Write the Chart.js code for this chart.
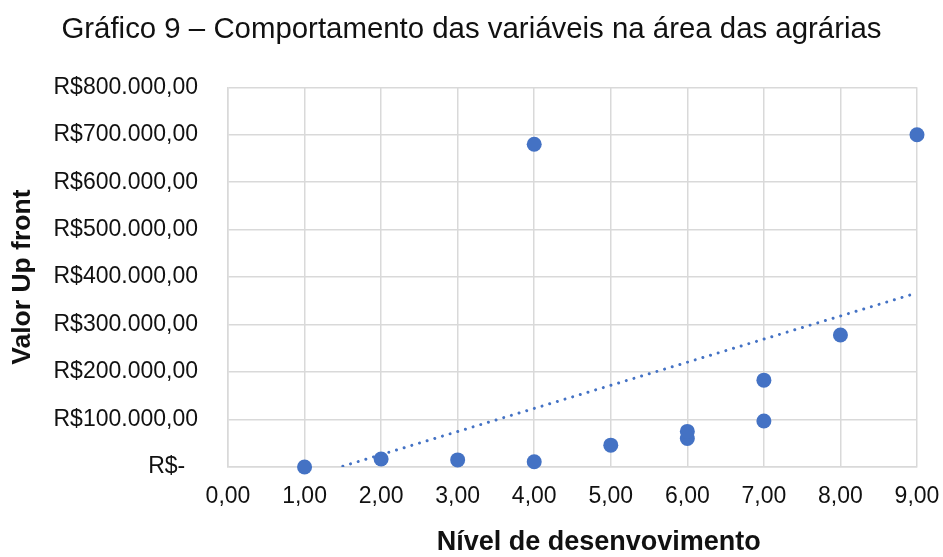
<!DOCTYPE html>
<html lang="pt-BR">
<head>
<meta charset="utf-8">
<title>Gráfico 9</title>
<script src="https://cdn.jsdelivr.net/npm/chart.js@4/dist/chart.umd.min.js"></script>
<style>
  html, body { margin: 0; padding: 0; background: #ffffff; }
  #wrap { width: 943px; height: 557px; }
</style>
</head>
<body>
<div id="wrap"><canvas id="chart"></canvas></div>
<script>
// Nível de desenvolvimento (x) e valor up front em R$ (y)
const nivel = [1, 2, 3, 4, 4, 5, 6, 6, 7, 7, 8, 9];
const valorUpFront = [0, 17000, 15000, 11000, 680000, 46000, 60000, 75000, 97000, 183000, 278000, 700000];

// Eixos
const xTickValues = [0, 1, 2, 3, 4, 5, 6, 7, 8, 9];
const yTickValues = [0, 100000, 200000, 300000, 400000, 500000, 600000, 700000, 800000];

const FONT = "'Liberation Sans', Arial, sans-serif";
const TEXT = '#111111';
const GRID = '#d9d9d9';
const BLUE = '#4472C4';

// Formato monetário brasileiro: R$800.000,00 / R$-
function brl(v) {
  if (v === 0) return 'R$-  ';
  const int = Math.round(v).toString().replace(/\B(?=(\d{3})+(?!\d))/g, '.');
  return 'R$' + int + ',00';
}
function dec2(v) {
  return v.toFixed(2).replace('.', ',');
}

// Linha de tendência linear (mínimos quadrados)
function linearFit(xs, ys) {
  const n = xs.length;
  const mx = xs.reduce((a, b) => a + b, 0) / n;
  const my = ys.reduce((a, b) => a + b, 0) / n;
  let sxy = 0, sxx = 0;
  for (let i = 0; i < n; i++) {
    sxy += (xs[i] - mx) * (ys[i] - my);
    sxx += (xs[i] - mx) * (xs[i] - mx);
  }
  const slope = sxy / sxx;
  return { slope, intercept: my - slope * mx };
}
const fit = linearFit(nivel, valorUpFront);
const xMin = Math.min(...nivel), xMax = Math.max(...nivel);
const trendPoints = [xMin, xMax].map(x => ({ x, y: fit.intercept + fit.slope * x }));

const points = nivel.map((x, i) => ({ x, y: valorUpFront[i] }));

new Chart(document.getElementById('chart'), {
  type: 'scatter',
  data: {
    datasets: [
      {
        label: 'Valor Up front',
        data: points,
        backgroundColor: BLUE,
        borderWidth: 0,
        pointRadius: 7.5,
        pointHoverRadius: 7.5,
        clip: false,
        order: 2
      },
      {
        type: 'line',
        label: 'Linear (Valor Up front)',
        data: trendPoints,
        borderColor: BLUE,
        borderWidth: 3,
        borderDash: [0.001, 8],
        borderCapStyle: 'round',
        pointRadius: 0,
        fill: false,
        order: 1
      }
    ]
  },
  options: {
    responsive: true,
    maintainAspectRatio: false,
    devicePixelRatio: 1,
    animation: false,
    layout: { padding: 0 },
    plugins: {
      legend: { display: false },
      tooltip: { enabled: false },
      title: {
        display: true,
        text: 'Gráfico 9 – Comportamento das variáveis na área das agrárias',
        color: TEXT,
        font: { family: FONT, size: 29.4, weight: 'normal' },
        padding: { top: 12, bottom: 40 }
      }
    },
    scales: {
      x: {
        type: 'linear',
        min: 0,
        max: 9,
        afterBuildTicks: (axis) => { axis.ticks = xTickValues.map(v => ({ value: v })); },
        afterFit: (axis) => {
          // reserve space on the right so the plot ends at 9,00 with room for its label
          axis.height = 90;
          axis.paddingLeft = 0;
          axis.paddingRight = 26;
        },
        grid: { color: GRID, lineWidth: 1.5, drawTicks: false },
        border: { color: GRID, width: 1.5 },
        ticks: {
          color: TEXT,
          font: { family: FONT, size: 23 },
          padding: 16,
          maxRotation: 0,
          callback: (v) => dec2(v)
        },
        title: {
          display: true,
          text: '       Nível de desenvovimento',
          color: TEXT,
          font: { family: FONT, size: 27, weight: 'bold', lineHeight: 0.8 },
          padding: { top: 0, bottom: 4 }
        }
      },
      y: {
        type: 'linear',
        min: 0,
        max: 800000,
        afterBuildTicks: (axis) => { axis.ticks = yTickValues.map(v => ({ value: v })); },
        afterFit: (axis) => { axis.width = 228; },
        grid: { color: GRID, lineWidth: 1.5, drawTicks: false },
        border: { color: GRID, width: 1.5 },
        ticks: {
          color: TEXT,
          font: { family: FONT, size: 23 },
          padding: 30,
          callback: (v) => brl(v)
        },
        title: {
          display: true,
          text: 'Valor Up front',
          color: TEXT,
          font: { family: FONT, size: 26.5, weight: 'bold', lineHeight: 0.8 },
          padding: { top: 12, bottom: 0 }
        }
      }
    }
  }
});
</script>
</body>
</html>
